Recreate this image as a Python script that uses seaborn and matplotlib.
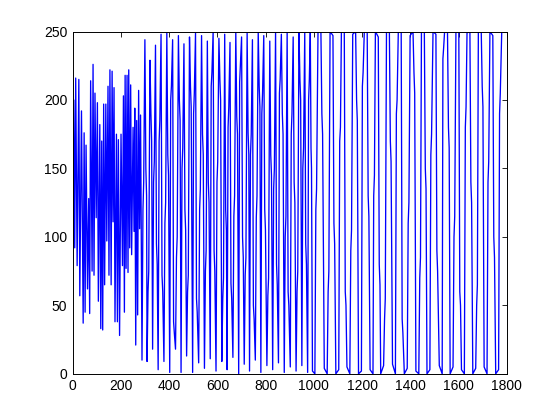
import matplotlib
matplotlib.use('Agg')
import matplotlib.pyplot as plt
import seaborn as sns
import pandas as pd

# early part: dense, noisy oscillation (extrema)
early_x = [1, 4, 8, 12, 18, 25, 29, 36, 43, 47, 51, 55, 61, 66, 70, 74, 80, 84, 88, 92,
           97, 102, 106, 112, 116, 120, 124, 128, 132, 137, 141, 146, 150, 154, 159, 163, 167, 171, 175, 181,
           185, 189, 194, 200, 206, 210, 214, 217, 221, 225, 229, 232, 236, 240, 244, 250, 254, 257, 261, 265,
           269, 273, 277, 281]
early_y = [95, 200, 92, 216, 79, 215, 57, 192, 37, 176, 45, 167, 62, 128, 44, 214, 75, 226, 72, 205,
           114, 198, 53, 182, 33, 170, 32, 197, 65, 197, 97, 210, 72, 222, 65, 221, 111, 209, 38, 175,
           38, 171, 28, 175, 79, 203, 45, 218, 77, 218, 74, 222, 92, 211, 87, 180, 104, 194, 21, 185,
           43, 207, 106, 189]

# middle part: full swing, period about 24, one jog on each edge
mid_x = [287, 291, 294, 299, 303, 306, 308, 312, 315, 320, 324, 327,
         331, 335, 338, 343, 347, 350, 354, 358, 361, 366, 370, 373,
         378, 382, 385, 390, 394, 397, 402, 406, 409, 414, 418, 421,
         426, 430, 433, 438, 442, 445, 449, 453, 456, 461, 465, 468,
         472, 476, 479, 484, 488, 491, 497, 501, 504, 509, 513, 516,
         522, 526, 529, 534, 538, 541, 546, 550, 553, 558, 562, 565,
         570, 574, 577, 582, 586, 589, 594, 598, 601, 606, 610, 613,
         618, 622, 625, 630, 634, 637, 640, 644, 647, 652, 656, 659,
         664, 668, 671, 676, 680, 683, 688, 692, 695, 700, 704, 707,
         711, 715, 718, 723, 727, 730, 733, 737, 740, 745, 749, 752,
         757, 761, 764, 769, 773, 776, 780, 784, 787, 792, 796, 799,
         805, 809, 812, 817, 821, 824, 829, 833, 836, 841, 845, 848,
         853, 857, 860, 865, 869, 872, 877, 881, 884, 889, 893, 896,
         902, 906, 909, 914, 918, 921, 926, 930, 933, 938, 942, 945,
         950, 954, 957, 962, 966, 969, 974, 978, 981, 985, 988, 990]
mid_y = [10, 120, 140, 244, 150, 130, 9, 60, 75, 229, 190, 170,
         18, 140, 155, 240, 95, 80, 3, 170, 185, 248, 72, 60,
         9, 110, 125, 249, 160, 145, 1, 200, 210, 244, 38, 30,
         18, 85, 100, 247, 200, 185, 1, 150, 165, 241, 120, 105,
         13, 60, 72, 246, 210, 195, 1, 190, 205, 249, 55, 45,
         8, 120, 135, 247, 175, 160, 4, 75, 90, 243, 140, 125,
         11, 210, 220, 250, 90, 75, 2, 140, 155, 245, 215, 200,
         9, 55, 70, 248, 120, 105, 3, 180, 195, 242, 66, 55,
         12, 115, 130, 250, 188, 175, 0, 213, 225, 246, 100, 85,
         7, 72, 85, 249, 176, 160, 2, 160, 175, 244, 50, 40,
         10, 114, 130, 250, 210, 195, 1, 190, 205, 247, 120, 105,
         6, 57, 70, 243, 160, 145, 3, 135, 150, 250, 80, 65,
         8, 205, 215, 248, 190, 175, 1, 100, 115, 250, 60, 50,
         5, 175, 190, 246, 140, 125, 2, 60, 75, 250, 215, 200,
         6, 150, 165, 249, 95, 80, 1, 200, 215, 250, 165, 150]

# late part: clipped swing, period about 48
late_x = [994, 1004, 1008, 1011, 1017, 1029, 1033, 1036,
          1043, 1055, 1059, 1062, 1067, 1079, 1083, 1086,
          1091, 1103, 1107, 1110, 1114, 1126, 1130, 1133,
          1137, 1149, 1153, 1156, 1161, 1173, 1177, 1180,
          1185, 1197, 1201, 1204, 1209, 1221, 1225, 1228,
          1233, 1245, 1248, 1251, 1255, 1267, 1271, 1274,
          1277, 1289, 1293, 1296, 1301, 1313, 1317, 1320,
          1326, 1338, 1342, 1345, 1350, 1362, 1366, 1369,
          1375, 1387, 1391, 1394, 1399, 1411, 1415, 1418,
          1423, 1435, 1439, 1442, 1446, 1458, 1462, 1465,
          1469, 1481, 1485, 1488, 1494, 1506, 1510, 1513,
          1520, 1532, 1535, 1538, 1542, 1554, 1558, 1561,
          1565, 1577, 1581, 1584, 1589, 1601, 1605, 1608,
          1612, 1624, 1628, 1631, 1635, 1647, 1651, 1654,
          1659, 1671, 1675, 1678, 1682, 1694, 1698, 1701,
          1706, 1718, 1722, 1725, 1730, 1742, 1746, 1749,
          1754, 1766, 1770, 1773, 1779, 1800]
late_y = [2, 0, 120, 135, 250, 250, 190, 175,
          4, 0, 60, 75, 250, 247, 110, 95,
          0, 3, 170, 180, 250, 250, 60, 50,
          5, 0, 90, 105, 248, 250, 200, 185,
          0, 2, 210, 220, 250, 250, 130, 115,
          3, 0, 130, 145, 250, 246, 80, 65,
          0, 6, 40, 55, 250, 250, 170, 155,
          7, 0, 190, 200, 250, 250, 40, 30,
          0, 4, 110, 125, 247, 250, 220, 205,
          2, 0, 70, 85, 250, 250, 150, 135,
          0, 3, 160, 175, 250, 248, 90, 75,
          6, 0, 230, 238, 250, 250, 180, 165,
          0, 5, 100, 115, 250, 250, 60, 50,
          3, 0, 180, 195, 249, 250, 140, 125,
          0, 4, 50, 65, 250, 250, 210, 195,
          5, 0, 140, 155, 250, 247, 100, 85,
          0, 3, 190, 205, 250, 250]

df = pd.DataFrame({'x': early_x + mid_x + late_x, 'y': early_y + mid_y + late_y})

sns.set_style('white')
plt.rcParams['font.family'] = ['Liberation Sans', 'DejaVu Sans']

fig = plt.figure(figsize=(5.6, 4.2), dpi=100)
fig.patch.set_facecolor('white')
ax = fig.add_axes([0.13, 0.11, 0.775, 0.815])

sns.lineplot(data=df, x='x', y='y', sort=False, estimator=None, color='#0000ff',
             linewidth=0.95, ax=ax)

ax.set_xlim(0, 1800)
ax.set_ylim(0, 250)
ax.set_xticks(range(0, 1801, 200))
ax.set_yticks(range(0, 251, 50))
ax.set_xlabel('')
ax.set_ylabel('')
ax.tick_params(direction='in', length=3.5, width=0.6, top=True, right=True,
               labelsize=10, colors='black', pad=4)
for sp in ax.spines.values():
    sp.set_visible(True)
    sp.set_color('black')
    sp.set_linewidth(0.7)

fig.savefig('out.png', dpi=100)
